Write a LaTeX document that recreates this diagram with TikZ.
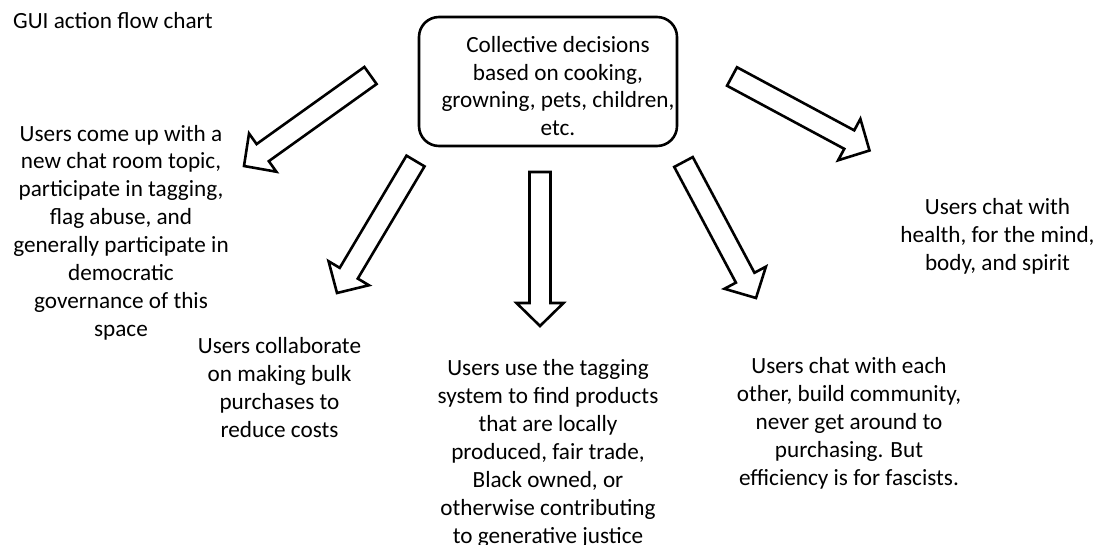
\documentclass[tikz,border=0pt]{standalone}
\usepackage{fontspec}
\setmainfont{Carlito}
\usetikzlibrary{calc}
\tikzset{
  txt/.style={align=center, inner sep=0pt, font=\fontsize{23.2}{27.9}\selectfont},
  mainbox/.style={draw, line width=2.6pt, rounded corners=20pt, minimum width=258pt, minimum height=129pt, inner sep=0pt},
  barrow/.style={draw, line width=2.6pt, fill=white, line join=miter}
}
\newcommand{\blockarrow}[2]{%
  \coordinate (#2-h) at ($(#2)!23pt!(#1)$);
  \draw[barrow] ($(#1)!10.5pt!90:(#2)$) -- ($(#2-h)!10.5pt!-90:(#1)$) -- ($(#2-h)!23.5pt!-90:(#1)$) -- (#2) -- ($(#2-h)!23.5pt!90:(#1)$) -- ($(#2-h)!10.5pt!90:(#1)$) -- ($(#1)!10.5pt!-90:(#2)$) -- cycle;}
\begin{document}
\begin{tikzpicture}[x=1pt,y=-1pt]
\useasboundingbox (0,0) rectangle (1100,544);
\node[txt, anchor=base west] (title) at (13,28) {GUI action flow chart};
\node[mainbox] (box) at (548,81.5) {};
\node[txt] (boxtext) at (558,86) {Collective decisions\\based on cooking,\\growning, pets, children,\\etc.};
\node[txt] (left) at (121,232.5) {Users come up with a\\new chat room topic,\\participate in tagging,\\flag abuse, and\\generally participate in\\democratic\\governance of this\\space};
\node[txt] (collab) at (279.5,387.5) {Users collaborate\\on making bulk\\purchases to\\reduce costs};
\node[txt] (tagging) at (548,453.5) {Users use the tagging\\system to find products\\that are locally\\produced, fair trade,\\Black owned, or\\otherwise contributing\\to generative justice};
\node[txt] (community) at (849,423.5) {Users chat with each\\other, build community,\\never get around to\\purchasing. But\\efficiency is for fascists.};
\node[txt] (health) at (997.5,236) {Users chat with\\health, for the mind,\\body, and spirit};
\coordinate (a1s) at (370.5,75.5); \coordinate (a1e) at (244,166);
\coordinate (a2s) at (415.5,161); \coordinate (a2e) at (337,293);
\coordinate (a3s) at (540,172); \coordinate (a3e) at (540,326);
\coordinate (a4s) at (683.5,162); \coordinate (a4e) at (756,298);
\coordinate (a5s) at (732,76.5); \coordinate (a5e) at (869.5,150.5);
\blockarrow{a1s}{a1e}
\blockarrow{a2s}{a2e}
\blockarrow{a3s}{a3e}
\blockarrow{a4s}{a4e}
\blockarrow{a5s}{a5e}
\end{tikzpicture}
\end{document}
